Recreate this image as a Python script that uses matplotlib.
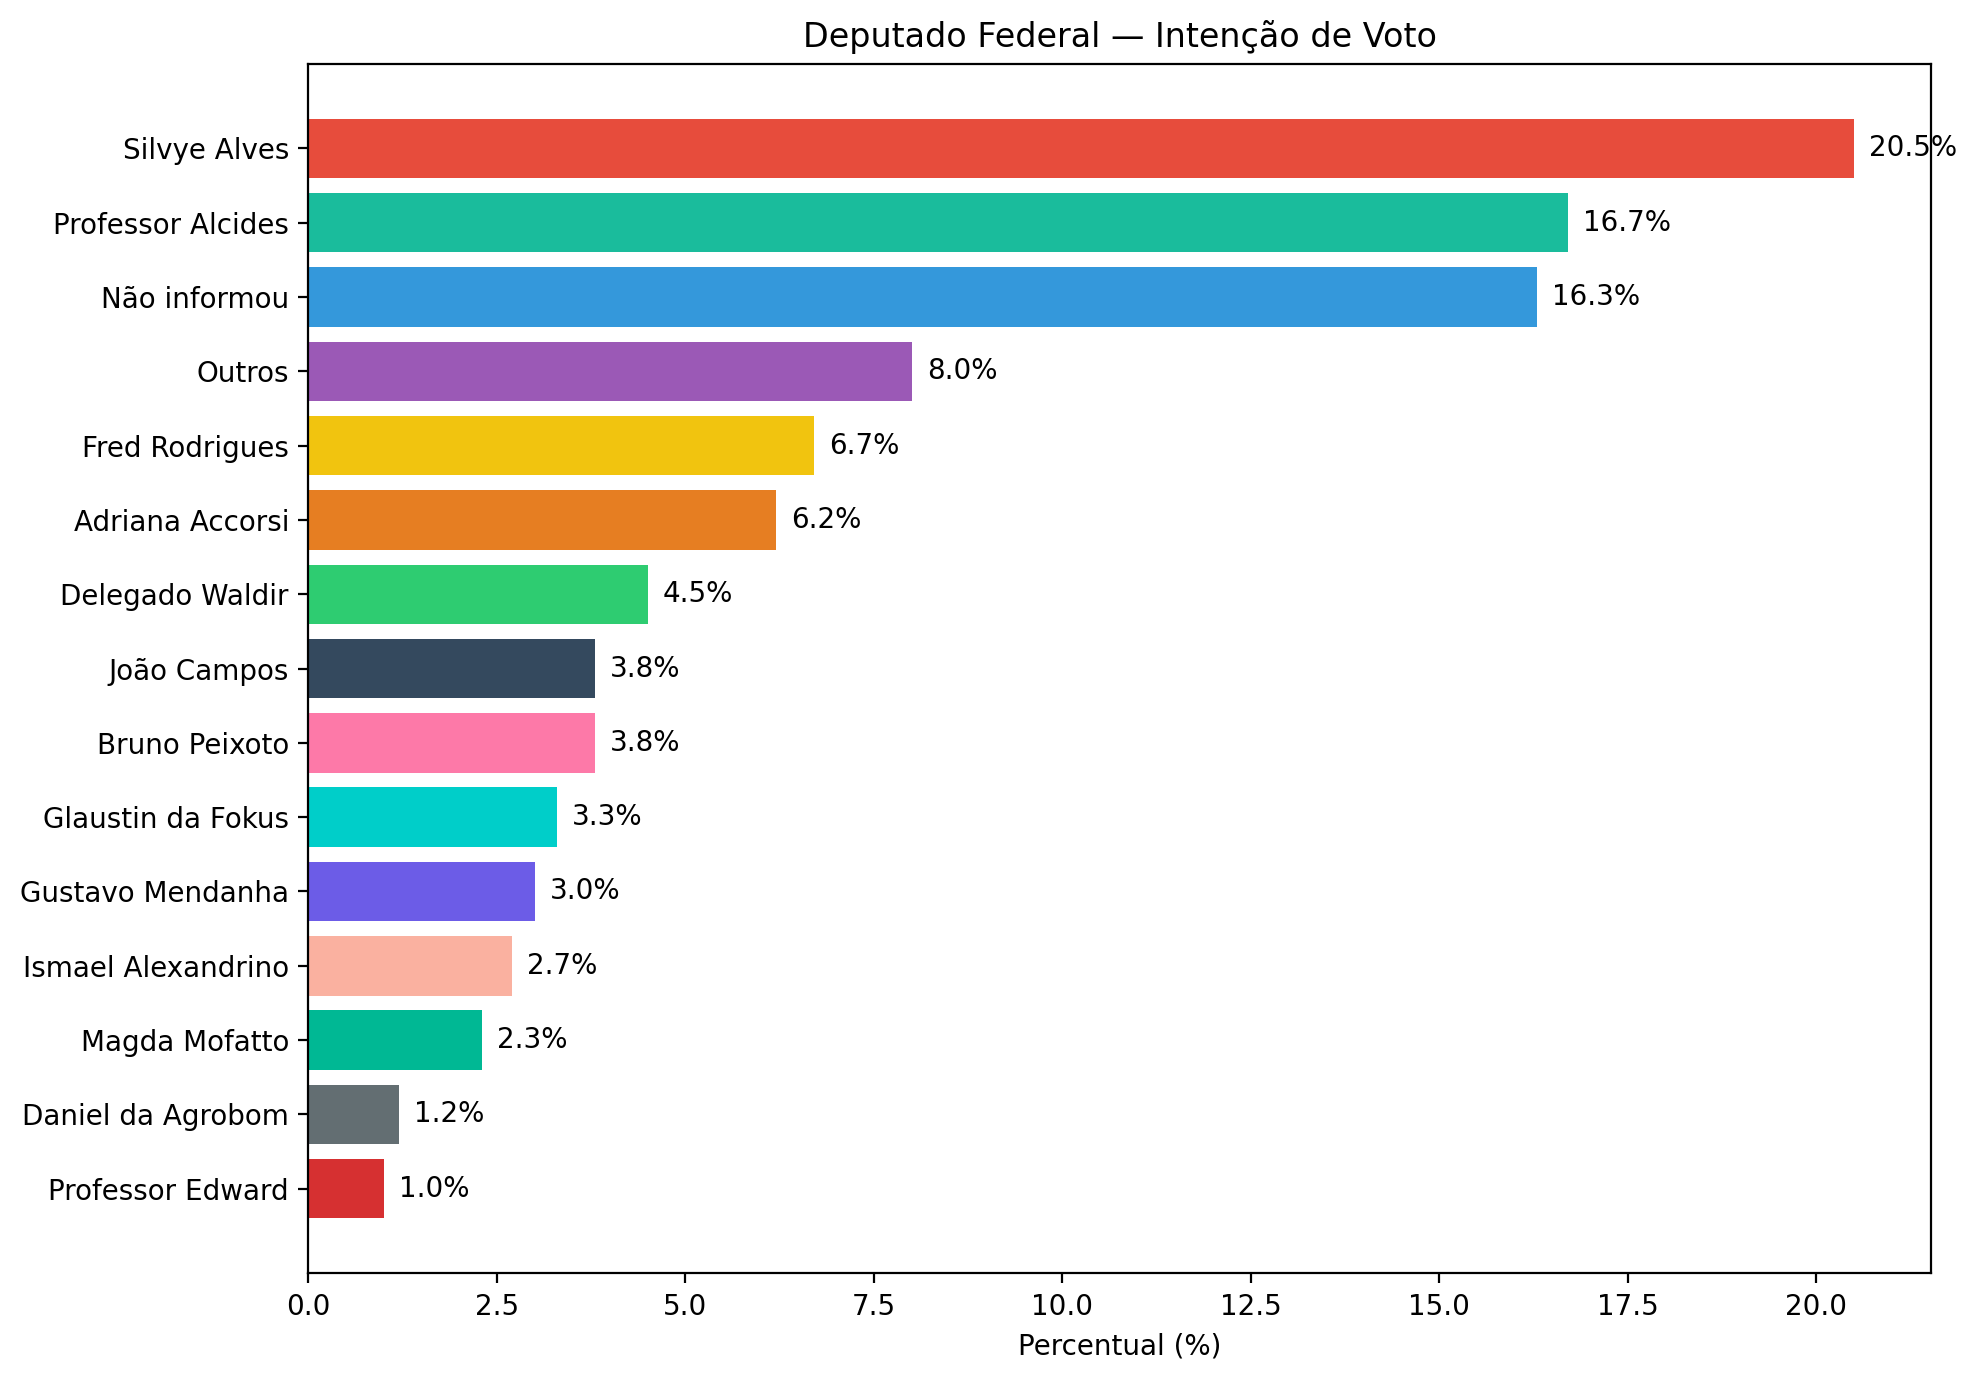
import matplotlib
matplotlib.use("Agg")
import matplotlib.pyplot as plt

candidates = ["Silvye Alves", "Professor Alcides", "Não informou", "Outros", "Fred Rodrigues",
              "Adriana Accorsi", "Delegado Waldir", "João Campos", "Bruno Peixoto",
              "Glaustin da Fokus", "Gustavo Mendanha", "Ismael Alexandrino", "Magda Mofatto",
              "Daniel da Agrobom", "Professor Edward"]
values = [20.5, 16.7, 16.3, 8.0, 6.7, 6.2, 4.5, 3.8, 3.8, 3.3, 3.0, 2.7, 2.3, 1.2, 1.0]
colors = ["#e74c3c", "#1abc9c", "#3498db", "#9b59b6", "#f1c40f", "#e67e22", "#2ecc71",
          "#34495e", "#fd79a8", "#00cec9", "#6c5ce7", "#fab1a0", "#00b894", "#636e72", "#d63031"]

fig, ax = plt.subplots(figsize=(10, 7), dpi=200)
y = list(range(len(candidates)))
ax.barh(y, values, color=colors)
ax.set_yticks(y)
ax.set_yticklabels(candidates)
ax.invert_yaxis()
for yi, v in zip(y, values):
    ax.text(v + 0.2, yi, f"{v:.1f}%", va="center", ha="left", fontsize=10)
ax.set_xlim(0, max(values) * 1.05)
ax.set_xlabel("Percentual (%)")
ax.set_title("Deputado Federal — Intenção de Voto")
fig.tight_layout()
fig.savefig("out.png", dpi=200, bbox_inches="tight")
